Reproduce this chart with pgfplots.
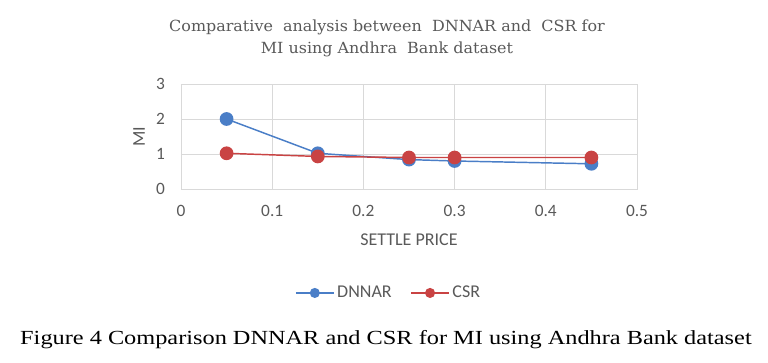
\documentclass[border=0pt]{standalone}
\usepackage{pgfplots}
\pgfplotsset{compat=1.18}
\usepackage{fontspec}
\setmainfont{Carlito}
\newfontfamily\capfont{Liberation Serif}
\newfontfamily\titlefont{DejaVu Serif}
\definecolor{dblue}{HTML}{4A7EC7}
\definecolor{dred}{HTML}{C94343}
\definecolor{txtgray}{HTML}{595959}
\definecolor{gridgray}{HTML}{D9D9D9}
\begin{document}
\begin{tikzpicture}
\useasboundingbox (-135.75pt,-130.5pt) rectangle (440.25pt,141.75pt);
\begin{axis}[
  at={(0,0)}, anchor=south west,
  scale only axis, width=342pt, height=78.75pt,
  xmin=0, xmax=0.5, ymin=0, ymax=3,
  xtick={0,0.1,0.2,0.3,0.4,0.5},
  ytick={0,1,2,3},
  grid=major,
  major grid style={gridgray, line width=0.6pt},
  axis line style={gridgray, line width=0.6pt},
  tick style={draw=none},
  /pgf/number format/assume math mode=true,
  tick label style={font=\fontsize{13}{15}\selectfont, text=txtgray},
  xticklabel style={yshift=-9pt},
  yticklabel style={xshift=-8.5pt},
  xlabel={SETTLE PRICE},
  ylabel={MI},
  label style={font=\fontsize{13.5}{16}\selectfont, text=txtgray},
  x label style={at={(axis description cs:0.5,0)}, yshift=-38pt, anchor=center},
  y label style={at={(axis description cs:-0.092,0.5)}, anchor=center},
  legend style={at={(0.456,-0.99)}, anchor=center, draw=none, fill=none,
    legend columns=2, font=\fontsize{13.5}{16}\selectfont, text=txtgray,
    /tikz/every even column/.append style={column sep=12pt}},
  legend image code/.code={
    \draw[#1, mark=none] (0cm,0cm) -- (1cm,0cm);
    \draw[#1, mark size=3.2pt] plot coordinates {(0.5cm,0cm)};
  },
]
\addplot[dblue, line width=1.1pt, mark=*, mark size=4.6pt, mark options={fill=dblue, draw=dblue}]
  coordinates {(0.05,2.0) (0.15,1.02) (0.25,0.84) (0.3,0.80) (0.45,0.72)};
\addlegendentry{DNNAR}
\addplot[dred, line width=1.1pt, mark=*, mark size=4.6pt, mark options={fill=dred, draw=dred}]
  coordinates {(0.05,1.02) (0.15,0.93) (0.25,0.90) (0.3,0.90) (0.45,0.90)};
\addlegendentry{CSR}
\end{axis}
\node[align=center, text=txtgray, font=\titlefont\fontsize{11.5}{16.5}\selectfont] at (154.5pt,113pt)
  {\scalebox{1.04}[1]{Comparative\ \ analysis between\ \ DNNAR and\ \ CSR for}\\\scalebox{1.04}[1]{MI using Andhra\ \ Bank dataset}};
\node[font=\capfont\fontsize{15}{18}\selectfont, text=black] at (153.75pt,-113.25pt)
  {\scalebox{1.216}[1]{Figure 4 Comparison DNNAR and CSR for MI using Andhra Bank dataset}};
\end{tikzpicture}
\end{document}
